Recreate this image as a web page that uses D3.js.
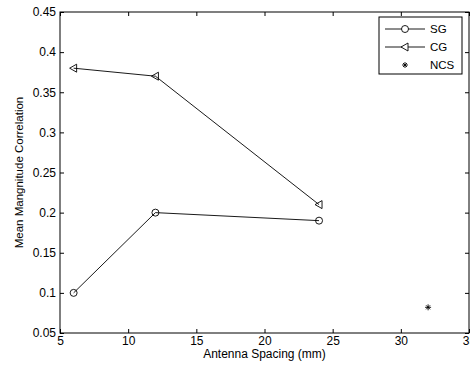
<!DOCTYPE html>
<html>
<head>
<meta charset="utf-8">
<script src="https://cdn.jsdelivr.net/npm/d3@7"></script>
<style>
  body { margin: 0; background: #fff; }
  svg { display: block; font-family: "Liberation Sans", Arial, sans-serif; }
</style>
</head>
<body>
<div id="chart"></div>
<script>
// data
const spacing = [6, 12, 24];
const sgValues = [0.1, 0.2, 0.19];
const cgValues = [0.38, 0.37, 0.21];
const ncsSpacing = [32];
const ncsValues = [0.082];
const xTicks = [5, 10, 15, 20, 25, 30, 35];
const yTicks = [0.05, 0.1, 0.15, 0.2, 0.25, 0.3, 0.35, 0.4, 0.45];
const seriesNames = ["SG", "CG", "NCS"];

const width = 470, height = 368;
const margin = {top: 12, right: 1, bottom: 35, left: 60};
const plotW = width - margin.left - margin.right;
const plotH = height - margin.top - margin.bottom;
const fontSize = 12;

const svg = d3.select('#chart').append('svg')
  .attr('width', width)
  .attr('height', height);

const x = d3.scaleLinear().domain([5, 35]).range([0, plotW]);
const y = d3.scaleLinear().domain([0.05, 0.45]).range([plotH, 0]);

const chart = svg.append('g')
  .attr('transform', `translate(${margin.left},${margin.top})`);

// axes, ticks pointing inward like matlab
const tickLen = 4;
chart.append('g')
  .attr('transform', `translate(0,${plotH})`)
  .call(d3.axisBottom(x).tickValues(xTicks).tickSize(-tickLen).tickPadding(3).tickFormat(d3.format('d')))
  .call(g => g.select('.domain').remove());
chart.append('g')
  .call(d3.axisTop(x).tickValues(xTicks).tickSize(-tickLen).tickFormat(''))
  .call(g => g.select('.domain').remove());
chart.append('g')
  .call(d3.axisLeft(y).tickValues(yTicks).tickSize(-tickLen).tickPadding(4).tickFormat(d => String(+d.toFixed(2))))
  .call(g => g.select('.domain').remove());
chart.append('g')
  .attr('transform', `translate(${plotW},0)`)
  .call(d3.axisRight(y).tickValues(yTicks).tickSize(-tickLen).tickFormat(''))
  .call(g => g.select('.domain').remove());

chart.selectAll('.tick text')
  .attr('font-size', fontSize)
  .attr('font-family', '"Liberation Sans", Arial, sans-serif')
  .attr('fill', '#000');
chart.selectAll('.tick line').attr('stroke', '#000');

chart.append('rect')
  .attr('width', plotW)
  .attr('height', plotH)
  .attr('fill', 'none')
  .attr('stroke', '#000')
  .attr('stroke-width', 1);

const line = d3.line().x(d => x(d[0])).y(d => y(d[1]));
const sgPts = spacing.map((s, i) => [s, sgValues[i]]);
const cgPts = spacing.map((s, i) => [s, cgValues[i]]);

const triPath = 'M-4,0L3,-4L3,4Z';
const starPath = 'M-3,0L3,0M0,-3L0,3M-2,-2L2,2M-2,2L2,-2';

chart.append('path').datum(sgPts)
  .attr('d', line).attr('fill', 'none').attr('stroke', '#000').attr('stroke-width', 0.9);
chart.append('path').datum(cgPts)
  .attr('d', line).attr('fill', 'none').attr('stroke', '#000').attr('stroke-width', 0.9);

chart.selectAll('.sg').data(sgPts).enter().append('circle')
  .attr('cx', d => x(d[0])).attr('cy', d => y(d[1])).attr('r', 3.5)
  .attr('fill', 'none').attr('stroke', '#000').attr('stroke-width', 0.9);

chart.selectAll('.cg').data(cgPts).enter().append('path')
  .attr('transform', d => `translate(${x(d[0])},${y(d[1])})`)
  .attr('d', triPath).attr('fill', 'none').attr('stroke', '#000').attr('stroke-width', 0.9);

chart.selectAll('.ncs').data(ncsSpacing.map((s, i) => [s, ncsValues[i]])).enter().append('path')
  .attr('transform', d => `translate(${x(d[0])},${y(d[1])})`)
  .attr('d', starPath).attr('fill', 'none').attr('stroke', '#000').attr('stroke-width', 0.9);

// labels
svg.append('text')
  .attr('x', margin.left + plotW / 2)
  .attr('y', 358)
  .attr('text-anchor', 'middle')
  .attr('font-size', fontSize)
  .text('Antenna Spacing (mm)');

svg.append('text')
  .attr('transform', `translate(23,${margin.top + plotH / 2}) rotate(-90)`)
  .attr('text-anchor', 'middle')
  .attr('font-size', 11.5)
  .text('Mean Mangnitude Correlation');

// legend
const legend = svg.append('g').attr('transform', 'translate(379,17)');
legend.append('rect')
  .attr('width', 83).attr('height', 57)
  .attr('fill', '#fff').attr('stroke', '#000').attr('stroke-width', 1);

const items = legend.selectAll('.item').data(seriesNames).enter().append('g')
  .attr('transform', (d, i) => `translate(0,${12 + i * 18})`);
items.filter((d, i) => i < 2).append('line')
  .attr('x1', 6).attr('x2', 46).attr('stroke', '#000').attr('stroke-width', 0.9);
items.filter((d, i) => i === 0).append('circle')
  .attr('cx', 26).attr('r', 3.5).attr('fill', '#fff').attr('stroke', '#000').attr('stroke-width', 0.9);
items.filter((d, i) => i === 1).append('path')
  .attr('transform', 'translate(26,0)').attr('d', triPath)
  .attr('fill', '#fff').attr('stroke', '#000').attr('stroke-width', 0.9);
items.filter((d, i) => i === 2).append('path')
  .attr('transform', 'translate(26,0)').attr('d', starPath)
  .attr('fill', 'none').attr('stroke', '#000').attr('stroke-width', 0.9);
items.append('text')
  .attr('x', 51).attr('dy', '0.35em')
  .attr('font-size', 11.5)
  .text(d => d);
</script>
</body>
</html>
